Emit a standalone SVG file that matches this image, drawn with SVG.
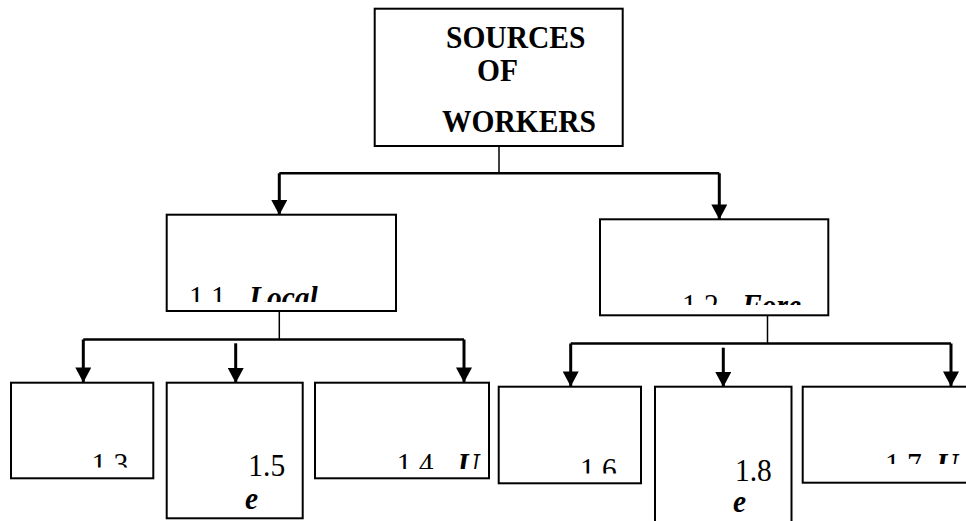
<svg xmlns="http://www.w3.org/2000/svg" width="966" height="521" viewBox="0 0 966 521">
<style>
.box{fill:#fff;stroke:#000;stroke-width:2}
.t{font-family:"Liberation Serif","Times New Roman",serif;font-size:29.5px;fill:#000}
.b{font-weight:bold}
.bi{font-weight:bold;font-style:italic}
.stem{fill:none;stroke:#000;stroke-width:1.5}
.bar{fill:none;stroke:#000;stroke-width:2.5}
.arr{fill:none;stroke:#000;stroke-width:3;marker-end:url(#ah)}
</style>
<defs>
<marker id="ah" markerUnits="userSpaceOnUse" markerWidth="16" markerHeight="16" viewBox="0 -8 15 16" refX="15" refY="0" orient="auto">
<path d="M0,-8 L15,0 L0,8 z" fill="#000"/>
</marker>
<clipPath id="c11"><rect x="167" y="215" width="228" height="87"/></clipPath>
<clipPath id="c12"><rect x="601" y="220" width="226" height="85"/></clipPath>
<clipPath id="c13"><rect x="12" y="383" width="140" height="84.5"/></clipPath>
<clipPath id="c14"><rect x="316" y="383" width="172" height="86"/></clipPath>
<clipPath id="c16"><rect x="500" y="387" width="140" height="86.5"/></clipPath>
<clipPath id="c17"><rect x="804" y="387" width="170" height="77"/></clipPath>
</defs>
<g id="connectors">
<path class="stem" d="M499,146 V173.3"/>
<path class="bar" d="M279.3,173.3 H719.3"/>
<path class="arr" d="M279.3,173.3 V215"/>
<path class="arr" d="M719.3,173.3 V219.5"/>
<path class="stem" d="M279.3,311 V339.5"/>
<path class="bar" d="M83.3,339.5 H464"/>
<path class="arr" d="M83.3,339.5 V382.5"/>
<path class="arr" d="M235.7,343.3 V383"/>
<path class="arr" d="M464,339.5 V382.5"/>
<path class="stem" d="M767.5,315.3 V343.5"/>
<path class="bar" d="M570.7,343.5 H951"/>
<path class="arr" d="M570.7,343.5 V386.5"/>
<path class="arr" d="M723.3,347.7 V387"/>
<path class="arr" d="M951,343.5 V386.5"/>
</g>
<g id="root">
<rect class="box" x="374.7" y="8.7" width="248" height="137.3"/>
<text class="t b" transform="translate(446,47.5) scale(1,1.08)">SOURCES</text>
<text class="t b" transform="translate(477,80.5) scale(1,1.08)">OF</text>
<text class="t b" transform="translate(442,131.5) scale(1,1.08)">WORKERS</text>
</g>
<g id="n11">
<rect class="box" x="166.7" y="214.7" width="229.3" height="96.3"/>
<g clip-path="url(#c11)">
<text class="t" transform="translate(189,307.5) scale(1,1.08)">1.1</text>
<text class="t bi" transform="translate(249,307.5) scale(1,1.08)">Local</text>
</g>
</g>
<g id="n12">
<rect class="box" x="600" y="219.3" width="228.3" height="96"/>
<g clip-path="url(#c12)">
<text class="t" transform="translate(682,316) scale(1,1.08)">1.2</text>
<text class="t bi" transform="translate(742,316) scale(1,1.08)">Fore</text>
</g>
</g>
<g id="n13">
<rect class="box" x="11" y="382.7" width="142.3" height="95.6"/>
<g clip-path="url(#c13)">
<text class="t" transform="translate(91.5,474.5) scale(1,1.08)">1.3</text>
</g>
</g>
<g id="n15">
<rect class="box" x="166.7" y="382.7" width="136" height="135.6"/>
<text class="t" transform="translate(248.3,475.5) scale(1,1.08)">1.5</text>
<text class="t bi" transform="translate(245,508.5) scale(1,1.08)">e</text>
</g>
<g id="n14">
<rect class="box" x="315" y="382.7" width="174" height="95.6"/>
<g clip-path="url(#c14)">
<text class="t" transform="translate(396.7,474.5) scale(1,1.08)">1.4</text>
<text class="t bi" transform="translate(458,474.5) scale(1,1.08)">U</text>
</g>
</g>
<g id="n16">
<rect class="box" x="498.7" y="386.7" width="142.3" height="96.6"/>
<g clip-path="url(#c16)">
<text class="t" transform="translate(580,479.5) scale(1,1.08)">1.6</text>
</g>
</g>
<g id="n18">
<rect class="box" x="655" y="386.7" width="136.5" height="150"/>
<text class="t" transform="translate(735,480.5) scale(1,1.08)">1.8</text>
<text class="t bi" transform="translate(733,512) scale(1,1.08)">e</text>
</g>
<g id="n17">
<rect class="box" x="802.7" y="386.7" width="180" height="96"/>
<g clip-path="url(#c17)">
<text class="t" transform="translate(885,474.5) scale(1,1.08)">1.7</text>
<text class="t bi" transform="translate(936.7,474.5) scale(1,1.08)">U</text>
</g>
</g>
</svg>
